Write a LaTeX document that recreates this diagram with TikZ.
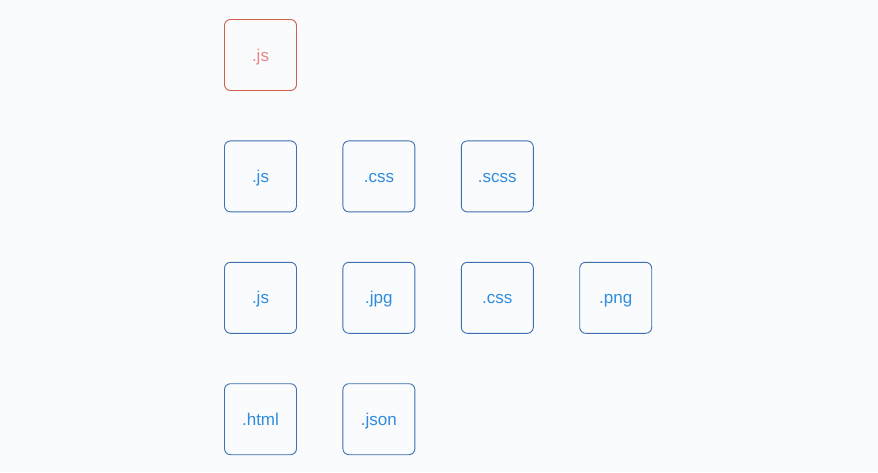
\documentclass[tikz,border=0pt]{standalone}
\usepackage{fontspec}
\setmainfont{Liberation Sans}
\usepackage{tikz}
\usetikzlibrary{positioning}
\definecolor{pagebg}{HTML}{FAFBFC}
\definecolor{fileline}{HTML}{3E6FB2}
\definecolor{filetext}{HTML}{2F8CDE}
\definecolor{entryline}{HTML}{CF5F4C}
\definecolor{entrytext}{HTML}{EB8585}

\begin{document}
\begin{tikzpicture}[x=1pt,y=1pt,node distance=49.5pt and 45.5pt,
	file/.style={draw=fileline,text=filetext,line width=0.9pt,rounded corners=6pt,minimum width=72pt,minimum height=71pt,inner sep=0pt,text height=12pt,text depth=0pt,font=\fontsize{17}{20}\selectfont},
	entry/.style={file,draw=entryline,text=entrytext}]
		\fill[pagebg] (0,0) rectangle (878,-472);
		\useasboundingbox (0,0) rectangle (878,-472);

		\node[entry] (e1) at (260.5,-55) {.js};

		\node[file] (a1) [below=of e1] {.js};
		\node[file] (a2) [right=of a1] {.css};
		\node[file] (a3) [right=of a2] {.scss};

		\node[file] (b1) [below=of a1] {.js};
		\node[file] (b2) [right=of b1] {.jpg};
		\node[file] (b3) [right=of b2] {.css};
		\node[file] (b4) [right=of b3] {.png};

		\node[file] (c1) [below=of b1] {.html};
		\node[file] (c2) [right=of c1] {.json};
\end{tikzpicture}
\end{document}
